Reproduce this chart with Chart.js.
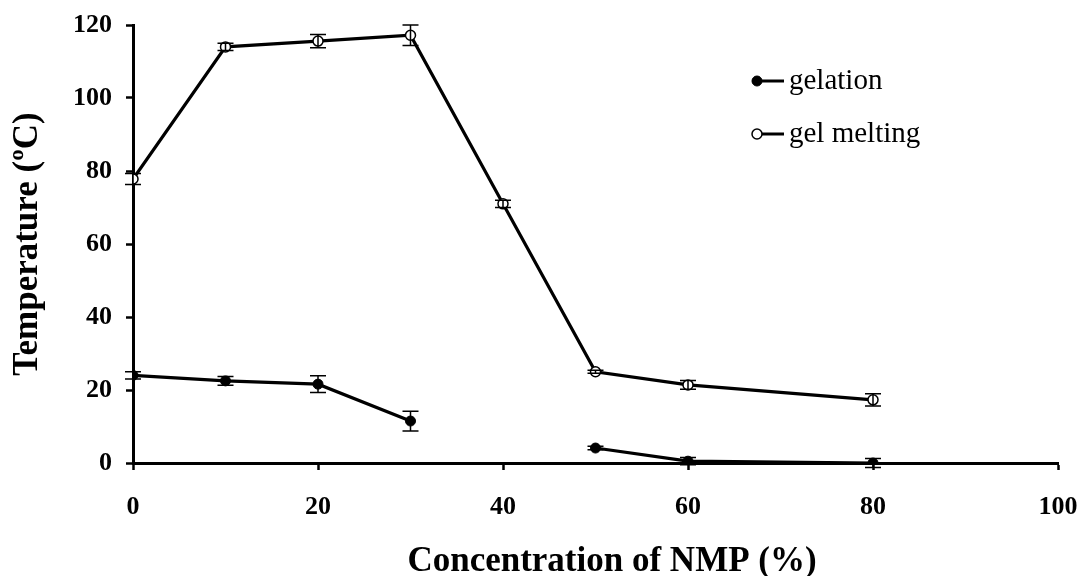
<!DOCTYPE html>
<html>
<head>
<meta charset="utf-8">
<script src="https://cdn.jsdelivr.net/npm/chart.js@4"></script>
<style>
  body { margin: 0; background: #fff; }
  #wrap { width: 1084px; height: 576px; }
</style>
</head>
<body>
<div id="wrap"><canvas id="chart" width="1084" height="576"></canvas></div>
<script>
const nmp = [0, 10, 20, 30, 40, 50, 60, 80];
const gelation = [24, 22.5, 21.6, 11.5, null, 4.1, 0.5, 0];
const gelationErr = [1, 1.2, 2.3, 2.7, null, 0.5, 1, 1.2];
const gelMelting = [77.8, 114, 115.6, 117.2, 71, 25, 21.4, 17.3];
const gelMeltingErr = [1.5, 1, 1.8, 2.8, 1, 0.4, 1.2, 1.7];
const xTicks = [0, 20, 40, 60, 80, 100];
const yTicks = [0, 20, 40, 60, 80, 100, 120];
const xTitle = "Concentration of NMP (%)";
const yTitle = "Temperature (ºC)";

const serif = "'Liberation Serif', 'Times New Roman', serif";

function pts(ys) {
    return nmp.map((x, i) => ({ x: x, y: ys[i] }));
}

// vertical error bars with caps
const errorBars = {
    id: "errorBars",
    afterDatasetsDraw(chart) {
        const ctx = chart.ctx;
        const xs = chart.scales.x;
        const ys = chart.scales.y;
        ctx.save();
        ctx.strokeStyle = "#000";
        ctx.lineWidth = 1.5;
        chart.data.datasets.forEach((ds) => {
            ds.data.forEach((p, i) => {
                const e = ds.err[i];
                if (p.y === null || e === null) return;
                const px = xs.getPixelForValue(p.x);
                const y1 = ys.getPixelForValue(p.y - e);
                const y2 = ys.getPixelForValue(p.y + e);
                ctx.beginPath();
                ctx.moveTo(px, y1);
                ctx.lineTo(px, y2);
                ctx.moveTo(px - 8, y1);
                ctx.lineTo(px + 8, y1);
                ctx.moveTo(px - 8, y2);
                ctx.lineTo(px + 8, y2);
                ctx.stroke();
            });
        });
        ctx.restore();
    },
};

// legend inside the plot + x title (sits a bit right of centre in the original)
const extras = {
    id: "extras",
    afterDraw(chart) {
        const ctx = chart.ctx;
        ctx.save();
        chart.data.datasets.forEach((ds, i) => {
            const y = 81 + i * 53;
            ctx.strokeStyle = "#000";
            ctx.lineWidth = 3;
            ctx.beginPath();
            ctx.moveTo(752, y);
            ctx.lineTo(784, y);
            ctx.stroke();
            ctx.beginPath();
            ctx.arc(757, y, ds.pointRadius, 0, Math.PI * 2);
            ctx.fillStyle = ds.pointBackgroundColor;
            ctx.fill();
            ctx.lineWidth = ds.pointBorderWidth;
            ctx.stroke();
            ctx.fillStyle = "#000";
            ctx.font = "29px " + serif;
            ctx.textBaseline = "middle";
            ctx.fillText(ds.label, 789, y);
        });
        ctx.font = "bold 35px " + serif;
        ctx.textAlign = "center";
        ctx.textBaseline = "alphabetic";
        ctx.fillText(xTitle, 612, 571);
        ctx.restore();
    },
};

const data = {
    datasets: [
        {
            label: "gelation",
            data: pts(gelation),
            err: gelationErr,
            borderColor: "#000",
            borderWidth: 3.2,
            pointRadius: 5,
            pointBackgroundColor: "#000",
            pointBorderColor: "#000",
            pointBorderWidth: 1,
            spanGaps: false,
        },
        {
            label: "gel melting",
            data: pts(gelMelting),
            err: gelMeltingErr,
            borderColor: "#000",
            borderWidth: 3.2,
            pointRadius: 5,
            pointBackgroundColor: "#fff",
            pointBorderColor: "#000",
            pointBorderWidth: 1.5,
        },
    ],
};

const axisBase = {
    border: { display: true, color: "#000", width: 3 },
    grid: {
        drawOnChartArea: false,
        drawTicks: true,
        tickLength: 7,
        tickWidth: 2.5,
        tickColor: "#000",
    },
};

// fixed axis sizes; drop the label overhang padding so the plot keeps its box
function fixBox(s, size) {
    if (s.isHorizontal()) s.height = size;
    else s.width = size;
    s.paddingLeft = 0;
    s.paddingRight = 0;
    s.paddingTop = 0;
    s.paddingBottom = 0;
}

const config = {
    type: "line",
    data: data,
    plugins: [errorBars, extras],
    options: {
        responsive: false,
        animation: false,
        layout: { padding: { top: 25, right: 26, left: 0, bottom: 0 } },
        scales: {
            x: {
                ...axisBase,
                type: "linear",
                min: 0,
                max: 100,
                afterBuildTicks: (s) => { s.ticks = xTicks.map((v) => ({ value: v })); },
                afterFit: (s) => fixBox(s, 113),
                ticks: {
                    color: "#000",
                    padding: 22,
                    maxRotation: 0,
                    font: { family: serif, size: 26, weight: "bold" },
                },
            },
            y: {
                ...axisBase,
                min: 0,
                max: 120,
                afterBuildTicks: (s) => { s.ticks = yTicks.map((v) => ({ value: v })); },
                afterFit: (s) => fixBox(s, 133),
                ticks: {
                    color: "#000",
                    padding: 14,
                    font: { family: serif, size: 26, weight: "bold" },
                },
                title: {
                    display: true,
                    text: yTitle,
                    color: "#000",
                    padding: { top: 7, bottom: 0 },
                    font: { family: serif, size: 35, weight: "bold" },
                },
            },
        },
        plugins: {
            legend: { display: false },
            tooltip: { enabled: false },
        },
    },
};

new Chart(document.getElementById("chart"), config);
</script>
</body>
</html>
